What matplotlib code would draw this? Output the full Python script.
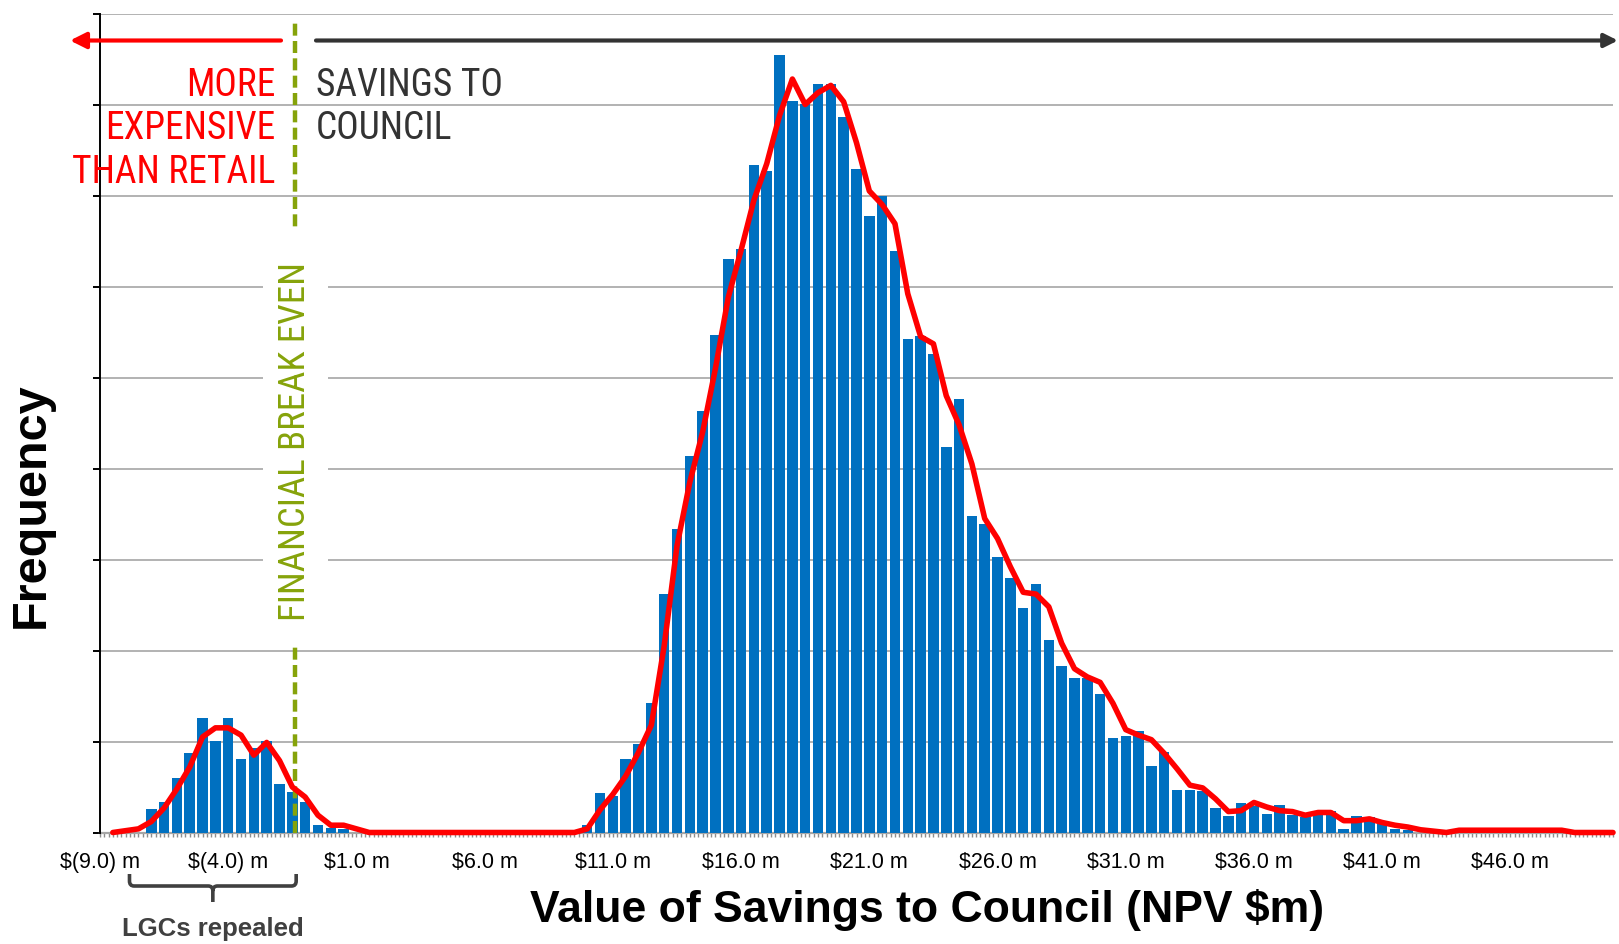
import numpy as np
import matplotlib
matplotlib.use("Agg")
import matplotlib.pyplot as plt
from matplotlib import font_manager
from matplotlib.ticker import MultipleLocator, NullFormatter
from matplotlib.path import Path
from matplotlib.patches import PathPatch, Rectangle
import matplotlib.transforms as mtransforms

# ---------------- data ----------------
bin_width = 0.5
left_start = -7.0
left_counts = [0.26, 0.33, 0.60, 0.87, 1.26, 1.01, 1.26, 0.81, 0.93, 1.01,
               0.53, 0.44, 0.33, 0.08, 0.05, 0.04]
main_start = 10.0
main_counts = [0.08, 0.43, 0.40, 0.81, 0.97, 1.42, 2.62, 3.34, 4.14, 4.63,
               5.47, 6.30, 6.41, 7.34, 7.27, 8.54, 8.04, 8.01, 8.22, 8.22,
               7.86, 7.29, 6.77, 6.99, 6.39, 5.42, 5.46, 5.26, 4.24, 4.76,
               3.48, 3.39, 3.03, 2.80, 2.47, 2.73, 2.12, 1.83, 1.70, 1.70,
               1.52, 1.04, 1.06, 1.11, 0.73, 0.89, 0.47, 0.47, 0.46, 0.27,
               0.18, 0.32, 0.29, 0.20, 0.30, 0.19, 0.17, 0.19, 0.24, 0.04,
               0.18, 0.17, 0.11, 0.04, 0.03]
smooth_start = -8.5
smooth_values = [0.00, 0.02, 0.04, 0.12, 0.27, 0.48, 0.72, 1.05, 1.15, 1.15,
                 1.07, 0.85, 0.99, 0.79, 0.50, 0.39, 0.19, 0.08, 0.08, 0.04,
                 0.00, 0.00, 0.00, 0.00, 0.00, 0.00, 0.00, 0.00, 0.00, 0.00,
                 0.00, 0.00, 0.00, 0.00, 0.00, 0.00, 0.00, 0.04, 0.25, 0.42,
                 0.62, 0.88, 1.18, 2.05, 3.15, 3.85, 4.40, 5.10, 5.88, 6.40,
                 6.95, 7.35, 7.88, 8.28, 8.00, 8.13, 8.21, 8.03, 7.58, 7.05,
                 6.90, 6.69, 5.92, 5.45, 5.37, 4.80, 4.48, 4.05, 3.45, 3.23,
                 2.92, 2.64, 2.62, 2.48, 2.08, 1.80, 1.71, 1.65, 1.42, 1.13,
                 1.07, 1.02, 0.87, 0.70, 0.52, 0.49, 0.37, 0.23, 0.24, 0.33,
                 0.28, 0.24, 0.23, 0.19, 0.22, 0.22, 0.13, 0.13, 0.15, 0.11,
                 0.08, 0.06, 0.03, 0.015, 0.00, 0.025, 0.025, 0.025, 0.025, 0.025,
                 0.025, 0.025, 0.025, 0.025, 0.00, 0.00, 0.00, 0.00]
tick_values = [-9, -4, 1, 6, 11, 16, 21, 26, 31, 36, 41, 46]
tick_labels = ["$(9.0) m", "$(4.0) m", "$1.0 m", "$6.0 m", "$11.0 m", "$16.0 m",
               "$21.0 m", "$26.0 m", "$31.0 m", "$36.0 m", "$41.0 m", "$46.0 m"]
break_even = -1.4
lgc_range = [-7.85, -1.35]

# ---------------- fonts ----------------
def has_font(name):
    try:
        font_manager.findfont(font_manager.FontProperties(family=name),
                              fallback_to_default=False)
        return True
    except Exception:
        return False

SANS = "Liberation Sans" if has_font("Liberation Sans") else "DejaVu Sans"
NARROW = None
for cand in ["Liberation Sans Narrow", "Roboto Condensed", "DejaVu Sans Condensed"]:
    if has_font(cand):
        NARROW = cand
        break
narrow_kw = {"family": NARROW} if NARROW else {"family": SANS, "stretch": "condensed"}
plt.rcParams["font.family"] = [SANS, "DejaVu Sans"]

# ---------------- figure ----------------
W, H = 1619, 945
fig = plt.figure(figsize=(W / 100, H / 100), dpi=100)
x0_px, x1_px, ytop_px, ybot_px = 100, 1613, 14.5, 833.5
ax = fig.add_axes([x0_px / W, (H - ybot_px) / H, (x1_px - x0_px) / W, (ybot_px - ytop_px) / H])
ax.set_xlim(-9.0, 50.0)
ax.set_ylim(0, 9)

BLUE = "#0070C0"
RED = "#FF0000"
GREEN = "#86A30A"
GRID = "#A6A6A6"
DARK = "#333333"

# gridlines
ax.set_yticks(np.arange(0, 10, 1))
ax.yaxis.set_major_formatter(NullFormatter())
ax.grid(axis="y", color=GRID, lw=1.2, zorder=0)
ax.set_axisbelow(True)

# bars
left_x = left_start + bin_width * np.arange(len(left_counts))
main_x = main_start + bin_width * np.arange(len(main_counts))
ax.bar(left_x, left_counts, width=0.41, color=BLUE, zorder=2, linewidth=0)
ax.bar(main_x, main_counts, width=0.41, color=BLUE, zorder=2, linewidth=0)

# break-even line
ax.axvline(break_even, ymin=0, ymax=0.99, color=GREEN, lw=3.2,
           dashes=(2.7, 1.2), zorder=3)

# white box behind vertical label
ax.add_patch(Rectangle((-2.65, 2.07), 2.53, 4.54, facecolor="white",
                       edgecolor="none", zorder=3.5))
ax.text(break_even, 4.31, "FINANCIAL BREAK EVEN", rotation=90, color=GREEN,
        fontsize=26.5, ha="center", va="center", zorder=4, **narrow_kw)

# smoothed line
smooth_x = smooth_start + bin_width * np.arange(len(smooth_values))
ax.plot(smooth_x, smooth_values, color=RED, lw=4.0, solid_joinstyle="round",
        solid_capstyle="round", zorder=5, clip_on=False)

# spines
for s in ["top", "right"]:
    ax.spines[s].set_visible(False)
ax.spines["left"].set_color("black")
ax.spines["left"].set_linewidth(1.4)
ax.spines["bottom"].set_color(GRID)
ax.spines["bottom"].set_linewidth(1.6)
ax.spines["bottom"].set_zorder(1)

ax.tick_params(axis="y", direction="out", length=5, width=1.4, color="black")
ax.set_xticks(tick_values)
ax.set_xticklabels(tick_labels)
ax.xaxis.set_minor_locator(MultipleLocator(1 / 6))
ax.tick_params(axis="x", which="both", direction="out", length=3.2, width=1.0,
               color="#8C8C8C", labelsize=15.5, pad=10)

# axis labels
ax.set_xlabel("Value of Savings to Council (NPV $m)", fontsize=32,
              fontweight="bold")
ax.xaxis.label.set_va("center")
ax.xaxis.set_label_coords((927 - x0_px) / (x1_px - x0_px), (ybot_px - 910) / (ybot_px - ytop_px))
ax.set_ylabel("Frequency", fontsize=35, fontweight="bold")
ax.yaxis.label.set_va("center")
ax.yaxis.set_label_coords((31 - x0_px) / (x1_px - x0_px), (ybot_px - 505) / (ybot_px - ytop_px))

# top arrows
def px_to_data_y(py):
    return (ybot_px - py) / (ybot_px - ytop_px) * 9

def px_to_data_x(px):
    return -9 + (px - x0_px) / (x1_px - x0_px) * 59

arrow_y = px_to_data_y(41.5)
ax.annotate("", xy=(px_to_data_x(70), arrow_y), xytext=(px_to_data_x(281), arrow_y),
            arrowprops=dict(arrowstyle="-|>", color=RED, lw=3.0, mutation_scale=24,
                            shrinkA=0, shrinkB=0),
            annotation_clip=False, zorder=6)
ax.annotate("", xy=(px_to_data_x(1618), arrow_y), xytext=(px_to_data_x(316), arrow_y),
            arrowprops=dict(arrowstyle="-|>", color=DARK, lw=3.0, mutation_scale=20,
                            shrinkA=0, shrinkB=0),
            annotation_clip=False, zorder=6)

# direction texts
for txt, py in [("MORE", 85), ("EXPENSIVE", 129), ("THAN RETAIL", 172.5)]:
    ax.text(px_to_data_x(275), px_to_data_y(py), txt, color=RED, fontsize=27,
            ha="right", va="center", zorder=6, **narrow_kw)
for txt, py in [("SAVINGS TO", 85), ("COUNCIL", 129)]:
    ax.text(px_to_data_x(316), px_to_data_y(py), txt, color=DARK, fontsize=27,
            ha="left", va="center", zorder=6, **narrow_kw)

# LGCs repealed bracket (x in data, y in figure pixels from top)
trans = mtransforms.blended_transform_factory(ax.transData, fig.transFigure)
def fy(py):
    return (H - py) / H
xl, xr = lgc_range
xc = (xl + xr) / 2
r = 0.18
ytop, yh, ybot = fy(875), fy(887), fy(903)
dy = fy(882) - fy(887)
verts = [(xl, ytop), (xl, yh + dy), (xl, yh), (xl + r, yh),
         (xc - r, yh), (xc, yh), (xc, yh - dy),
         (xc, ybot),
         (xc, yh - dy), (xc, yh), (xc + r, yh),
         (xr - r, yh), (xr, yh), (xr, yh + dy), (xr, ytop)]
codes = [Path.MOVETO, Path.LINETO, Path.CURVE3, Path.CURVE3,
         Path.LINETO, Path.CURVE3, Path.CURVE3,
         Path.LINETO,
         Path.MOVETO, Path.CURVE3, Path.CURVE3,
         Path.LINETO, Path.CURVE3, Path.CURVE3, Path.LINETO]
bracket = PathPatch(Path(verts, codes), transform=trans, facecolor="none",
                    edgecolor="#404040", lw=2.6, clip_on=False)
fig.add_artist(bracket)
fig.text(213 / W, fy(929), "LGCs repealed", ha="center", va="center",
         fontsize=18.5, fontweight="bold", color="#404040")

fig.savefig("out.png", dpi=100)
